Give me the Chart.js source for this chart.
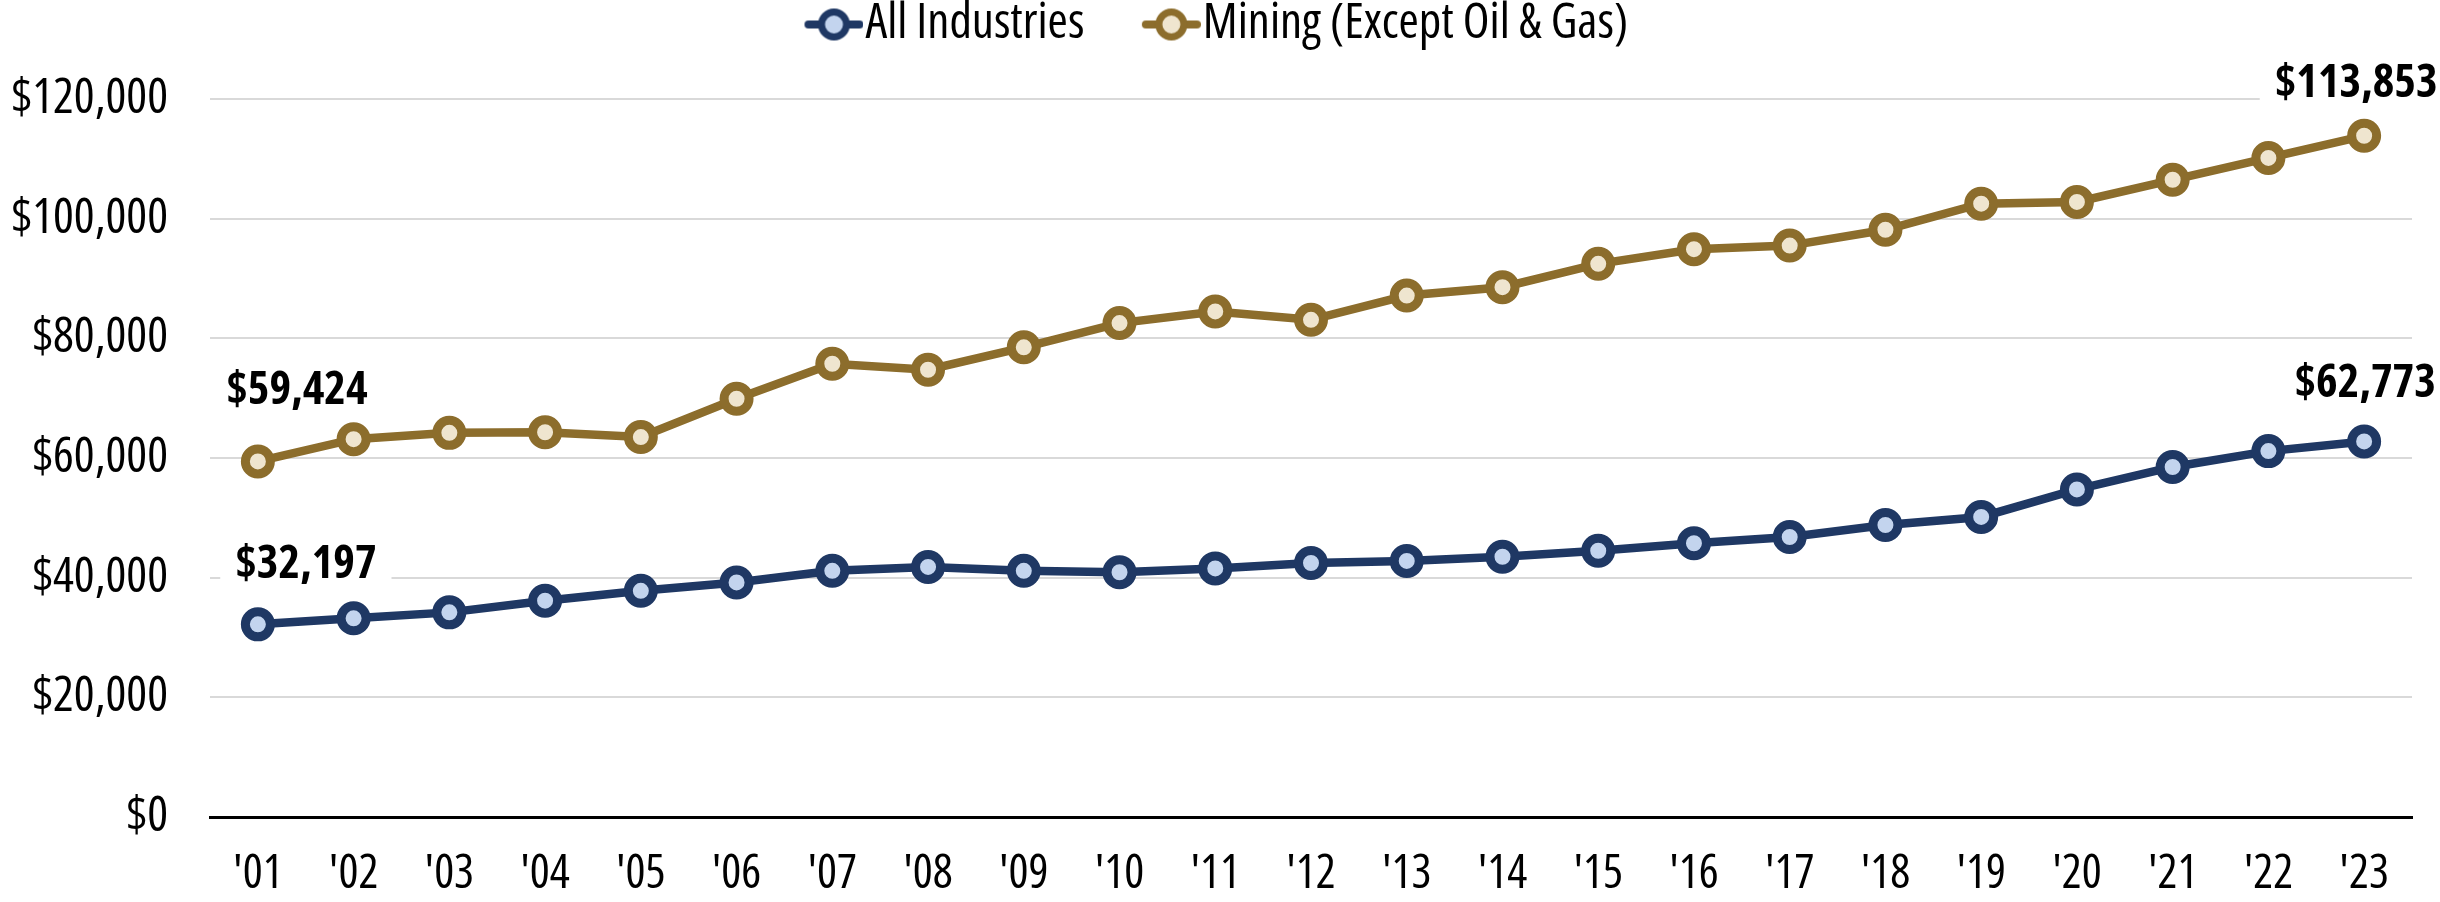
<!DOCTYPE html>
<html>
<head>
<meta charset="utf-8">
<script src="https://cdn.jsdelivr.net/npm/chart.js@4.4.1/dist/chart.umd.min.js"></script>
<style>
  html, body { margin: 0; padding: 0; background: #fff; }
  #wrap { width: 2440px; height: 902px; }
</style>
</head>
<body>
<div id="wrap"><canvas id="chart" width="2440" height="902"></canvas></div>
<script>
// data
const years = ["'01", "'02", "'03", "'04", "'05", "'06", "'07", "'08", "'09", "'10", "'11", "'12",
  "'13", "'14", "'15", "'16", "'17", "'18", "'19", "'20", "'21", "'22", "'23"];
const allIndustries = [32197, 33200, 34200, 36150, 37800, 39200, 41150, 41800, 41150, 40900, 41550, 42450,
  42800, 43500, 44500, 45750, 46800, 48800, 50150, 54750, 58500, 61150, 62773];
const mining = [59424, 63150, 64200, 64300, 63500, 69900, 75750, 74750, 78500, 82550, 84500, 83100,
  87150, 88550, 92450, 94900, 95500, 98150, 102500, 102800, 106500, 110150, 113853];
const yTicks = [0, 20000, 40000, 60000, 80000, 100000, 120000];

const NAVY = '#1f3864', NAVY_FILL = '#c3d4ee';
const GOLD = '#8c6d2c', GOLD_FILL = '#efe5cf';
// no Arial Narrow here: Open Sans with the condensed width is the closest match
const FAMILY = "'Open Sans', 'Liberation Sans', sans-serif";

// label offsets from the point centre: [first, last] per dataset
const labelOffsets = [
  [[48, -60], [1, -59]],
  [[39, -72], [-8, -53]],
];

const LEGEND_FONT = 49;
const LEGEND_BOX = 94;

// line + circle marker for the legend, padded on the left so it ends right before the text
function legendMarker(color, fill) {
  const c = document.createElement('canvas');
  c.width = LEGEND_BOX + LEGEND_FONT - 4;
  c.height = 40;
  const ctx = c.getContext('2d');
  const x0 = c.width - 59;
  ctx.strokeStyle = color;
  ctx.lineWidth = 8;
  ctx.lineCap = 'round';
  ctx.beginPath();
  ctx.moveTo(x0 + 4, 20);
  ctx.lineTo(c.width - 4, 20);
  ctx.stroke();
  ctx.beginPath();
  ctx.arc(x0 + 29.5, 20, 12.5, 0, Math.PI * 2);
  ctx.fillStyle = fill;
  ctx.fill();
  ctx.lineWidth = 7;
  ctx.stroke();
  return c;
}
const markers = [legendMarker(NAVY, NAVY_FILL), legendMarker(GOLD, GOLD_FILL)];

const money = v => '$' + v.toLocaleString('en-US');

// legend reserves the room above the plot and is nudged back to the centre
const legendTweak = {
  id: 'legendTweak',
  beforeInit(chart) {
    const fit = chart.legend.fit;
    chart.legend.fit = function () {
      fit.bind(chart.legend)();
      this.height = 99;
      if (this.lineWidths) this.lineWidths[0] += 42;
    };
  },
};

const endLabels = {
  id: 'endLabels',
  afterDatasetsDraw(chart) {
    const ctx = chart.ctx;
    ctx.save();
    ctx.font = `bold condensed 46px ${FAMILY}`;
    ctx.textAlign = 'center';
    ctx.textBaseline = 'middle';
    chart.data.datasets.forEach((ds, i) => {
      const meta = chart.getDatasetMeta(i);
      [0, ds.data.length - 1].forEach((idx, k) => {
        const pt = meta.data[idx];
        const [dx, dy] = labelOffsets[i][k];
        const x = pt.x + dx, y = pt.y + dy;
        const text = money(ds.data[idx]);
        const w = ctx.measureText(text).width;
        ctx.fillStyle = '#fff';
        ctx.fillRect(x - w / 2 - 15, y - 24, w + 30, 48);
        ctx.fillStyle = '#000';
        ctx.fillText(text, x, y + 1);
      });
    });
    ctx.restore();
  },
};

const lineStyle = (color, fill) => ({
  borderColor: color,
  borderWidth: 8.5,
  pointRadius: 12.5,
  pointBorderWidth: 9,
  pointBackgroundColor: fill,
  pointBorderColor: color,
  tension: 0,
});

new Chart(document.getElementById('chart'), {
  type: 'line',
  data: {
    labels: years,
    datasets: [
      { label: 'All Industries', data: allIndustries, ...lineStyle(NAVY, NAVY_FILL) },
      { label: 'Mining (Except Oil & Gas)', data: mining, ...lineStyle(GOLD, GOLD_FILL) },
    ],
  },
  options: {
    responsive: false,
    animation: false,
    events: [],
    layout: { padding: { left: 5, right: 28, top: 0, bottom: 0 } },
    plugins: {
      legend: {
        position: 'top',
        labels: {
          color: '#000',
          font: { family: FAMILY, size: LEGEND_FONT, weight: 'condensed' },
          usePointStyle: true,
          pointStyleWidth: LEGEND_BOX,
          padding: 0,
          generateLabels: chart => Chart.defaults.plugins.legend.labels.generateLabels(chart)
            .map((item, i) => ({ ...item, pointStyle: markers[i], rotation: 0 })),
        },
      },
      tooltip: { enabled: false },
    },
    scales: {
      x: {
        offset: true,
        afterFit: axis => { axis.height = 85; },
        grid: { display: false, drawTicks: false },
        border: { display: true, color: '#000', width: 3 },
        ticks: {
          color: '#000', font: { family: FAMILY, size: 47, weight: 'condensed' },
          padding: 29, maxRotation: 0, autoSkip: false,
        },
      },
      y: {
        min: 0,
        max: 120000,
        afterBuildTicks: axis => { axis.ticks = yTicks.map(v => ({ value: v })); },
        afterFit: axis => { axis.width = 205; },
        grid: {
          color: c => (c.tick && c.tick.value === 0 ? 'rgba(0,0,0,0)' : '#d9d9d9'),
          lineWidth: 2,
          drawTicks: false,
        },
        border: { display: false },
        ticks: {
          color: '#000', font: { family: FAMILY, size: 49, weight: 'condensed' },
          padding: 42, callback: v => money(v),
        },
      },
    },
  },
  plugins: [legendTweak, endLabels],
});
</script>
</body>
</html>
